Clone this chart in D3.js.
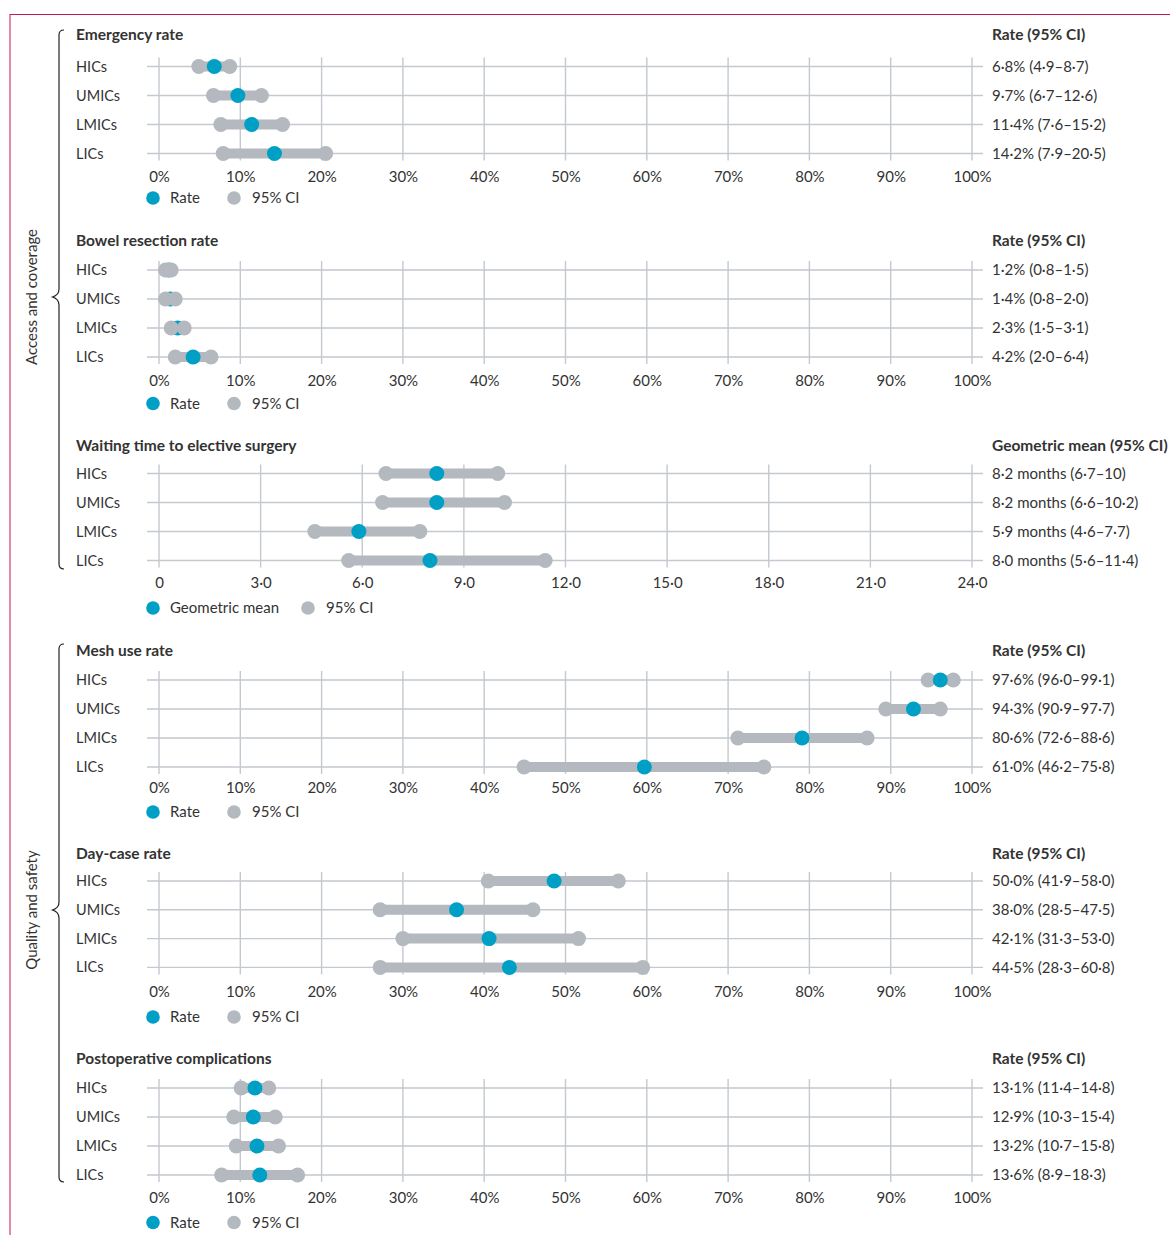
<!DOCTYPE html>
<html><head><meta charset="utf-8">
<script src="https://cdn.jsdelivr.net/npm/d3@7"></script>
<style>
body{margin:0;background:#fff}
text{font-family:Lato,"Noto Sans",sans-serif;fill:#333}
</style>
</head><body>
<svg id="c" width="1170" height="1235"></svg>
<script>
// ---------- DATA ----------
const groups = ["HICs", "UMICs", "LMICs", "LICs"];

const emergencyRate = [6.8, 9.7, 11.4, 14.2];
const emergencyLow  = [4.9, 6.7, 7.6, 7.9];
const emergencyHigh = [8.7, 12.6, 15.2, 20.5];
const emergencyText = ["6·8% (4·9–8·7)", "9·7% (6·7–12·6)", "11·4% (7·6–15·2)", "14·2% (7·9–20·5)"];

const bowelRate = [1.2, 1.4, 2.3, 4.2];
const bowelLow  = [0.8, 0.8, 1.5, 2.0];
const bowelHigh = [1.5, 2.0, 3.1, 6.4];
const bowelText = ["1·2% (0·8–1·5)", "1·4% (0·8–2·0)", "2·3% (1·5–3·1)", "4·2% (2·0–6·4)"];

const waitMean = [8.2, 8.2, 5.9, 8.0];
const waitLow  = [6.7, 6.6, 4.6, 5.6];
const waitHigh = [10.0, 10.2, 7.7, 11.4];
const waitText = ["8·2 months (6·7–10)", "8·2 months (6·6–10·2)", "5·9 months (4·6–7·7)", "8·0 months (5·6–11·4)"];

// plotted positions
const meshRate = [96.1, 92.8, 79.1, 59.7];
const meshLow  = [94.6, 89.4, 71.2, 44.9];
const meshHigh = [97.7, 96.1, 87.1, 74.4];
const meshText = ["97·6% (96·0–99·1)", "94·3% (90·9–97·7)", "80·6% (72·6–88·6)", "61·0% (46·2–75·8)"];

const dayRate = [48.6, 36.6, 40.6, 43.1];
const dayLow  = [40.5, 27.2, 30.0, 27.2];
const dayHigh = [56.5, 46.0, 51.6, 59.5];
const dayText = ["50·0% (41·9–58·0)", "38·0% (28·5–47·5)", "42·1% (31·3–53·0)", "44·5% (28·3–60·8)"];

const postopRate = [11.8, 11.6, 12.05, 12.4];
const postopLow  = [10.1, 9.2, 9.5, 7.7];
const postopHigh = [13.5, 14.3, 14.7, 17.05];
const postopText = ["13·1% (11·4–14·8)", "12·9% (10·3–15·4)", "13·2% (10·7–15·8)", "13·6% (8·9–18·3)"];

const percentTicks = [0, 10, 20, 30, 40, 50, 60, 70, 80, 90, 100];
const percentTickLabels = ["0%", "10%", "20%", "30%", "40%", "50%", "60%", "70%", "80%", "90%", "100%"];
const monthTicks = [0, 3, 6, 9, 12, 15, 18, 21, 24];
const monthTickLabels = ["0", "3·0", "6·0", "9·0", "12·0", "15·0", "18·0", "21·0", "24·0"];

const panelTitles = ["Emergency rate", "Bowel resection rate", "Waiting time to elective surgery",
                     "Mesh use rate", "Day-case rate", "Postoperative complications"];
const panelHeaders = ["Rate (95% CI)", "Rate (95% CI)", "Geometric mean (95% CI)",
                      "Rate (95% CI)", "Rate (95% CI)", "Rate (95% CI)"];
const pointLegend = ["Rate", "Rate", "Geometric mean", "Rate", "Rate", "Rate"];
const ciLegend = "95% CI";
const domainLabels = ["Access and coverage", "Quality and safety"];

// ---------- LAYOUT ----------
const TEAL = "#00a0c6", GREY = "#b3b9bf", GRID = "#c3c9cf";
const layout = [
  {title: 35,   row0: 66.5,  step: 29.0, tick: 176.5, legend: 198,    legendGap: 0,  ciOnTop: false},
  {title: 241,  row0: 270,   step: 29.0, tick: 380.5, legend: 403.5,  legendGap: 0,  ciOnTop: true},
  {title: 446,  row0: 473.5, step: 29.0, tick: 583,   legend: 608,    legendGap: 74, ciOnTop: false},
  {title: 651,  row0: 680,   step: 29.0, tick: 788,   legend: 812,    legendGap: 0,  ciOnTop: false},
  {title: 854,  row0: 881,   step: 28.8, tick: 992,   legend: 1017,   legendGap: 0,  ciOnTop: false},
  {title: 1059, row0: 1088,  step: 29.0, tick: 1198,  legend: 1222.5, legendGap: 0,  ciOnTop: false}
];

const panels = [
  {rate: emergencyRate, low: emergencyLow, high: emergencyHigh, text: emergencyText, months: false},
  {rate: bowelRate, low: bowelLow, high: bowelHigh, text: bowelText, months: false},
  {rate: waitMean, low: waitLow, high: waitHigh, text: waitText, months: true},
  {rate: meshRate, low: meshLow, high: meshHigh, text: meshText, months: false},
  {rate: dayRate, low: dayLow, high: dayHigh, text: dayText, months: false},
  {rate: postopRate, low: postopLow, high: postopHigh, text: postopText, months: false}
];

const svg = d3.select("#c");

// frame
svg.append("line").attr("x1", 10).attr("x2", 1170).attr("y1", 14.5).attr("y2", 14.5)
  .attr("stroke", "#c9184a").attr("stroke-width", 1);
svg.append("line").attr("x1", 10).attr("x2", 10).attr("y1", 14).attr("y2", 1235)
  .attr("stroke", "#c9184a").attr("stroke-width", 1);

panels.forEach((p, pi) => {
  const L = layout[pi];
  const g = svg.append("g");
  const x = d3.scaleLinear().domain(p.months ? [0, 24] : [0, 100]).range([159, 972]);
  const ticks = p.months ? monthTicks : percentTicks;
  const tickLabels = p.months ? monthTickLabels : percentTickLabels;
  const y = d3.scalePoint().domain(groups).range([L.row0, L.row0 + 3 * L.step]);

  // title + header
  g.append("text").attr("x", 76).attr("y", L.title).attr("dy", "0.35em")
    .style("font-weight", 700).style("font-size", "15.5px").text(panelTitles[pi]);
  g.append("text").attr("x", 992).attr("y", L.title).attr("dy", "0.35em")
    .style("font-weight", 700).style("font-size", "15.5px").text(panelHeaders[pi]);

  // grid
  const yTop = y(groups[0]) - 9, yBot = y(groups[3]) + 7;
  g.selectAll(".vg").data(ticks).join("line")
    .attr("x1", d => x(d)).attr("x2", d => x(d)).attr("y1", yTop).attr("y2", yBot)
    .attr("stroke", GRID).attr("stroke-width", 1.4);
  g.selectAll(".hg").data(groups).join("line")
    .attr("x1", 147).attr("x2", 983).attr("y1", d => y(d)).attr("y2", d => y(d))
    .attr("stroke", GRID).attr("stroke-width", 1.4);

  // row labels
  g.selectAll(".rl").data(groups).join("text")
    .attr("x", 76).attr("y", d => y(d)).attr("dy", "0.35em")
    .style("font-size", "14.5px").text(d => d);

  // value labels
  g.selectAll(".vl").data(p.text).join("text")
    .attr("x", 992).attr("y", (d, i) => y(groups[i])).attr("dy", "0.35em")
    .style("font-size", "15px").text(d => d);

  // axis tick labels
  const axis = d3.axisBottom(x).tickValues(ticks).tickSize(0).tickPadding(0)
    .tickFormat((d, i) => tickLabels[i]);
  const ag = g.append("g").attr("transform", `translate(0,${L.tick})`).call(axis);
  ag.select(".domain").remove();
  ag.selectAll("text").attr("y", 0).attr("dy", "0.35em")
    .style("font-family", "Lato, 'Noto Sans', sans-serif").style("font-size", "15px")
    .attr("fill", "#333");

  // CI bars and points
  groups.forEach((grp, i) => {
    const yy = y(grp);
    g.append("line").attr("x1", x(p.low[i])).attr("x2", x(p.high[i]))
      .attr("y1", yy).attr("y2", yy).attr("stroke", GREY).attr("stroke-width", 10);
    const drawCI = () => {
      g.append("circle").attr("cx", x(p.low[i])).attr("cy", yy).attr("r", 7.5).attr("fill", GREY);
      g.append("circle").attr("cx", x(p.high[i])).attr("cy", yy).attr("r", 7.5).attr("fill", GREY);
    };
    const drawRate = () => {
      g.append("circle").attr("cx", x(p.rate[i])).attr("cy", yy).attr("r", 7.5).attr("fill", TEAL);
    };
    if (L.ciOnTop) { drawRate(); drawCI(); } else { drawCI(); drawRate(); }
  });

  // legend
  const lg = g.append("g").attr("transform", `translate(0,${L.legend})`);
  lg.append("circle").attr("cx", 153).attr("cy", 0).attr("r", 6.8).attr("fill", TEAL);
  lg.append("text").attr("x", 170).attr("y", 0).attr("dy", "0.35em").style("font-size", "15px").text(pointLegend[pi]);
  lg.append("circle").attr("cx", 234 + L.legendGap).attr("cy", 0).attr("r", 6.8).attr("fill", GREY);
  lg.append("text").attr("x", 252 + L.legendGap).attr("y", 0).attr("dy", "0.35em").style("font-size", "15px").text(ciLegend);
});

// braces
function brace(top, mid, bot) {
  const p = d3.path();
  const bx = 59, tip = 52.5;
  p.moveTo(64, top);
  p.quadraticCurveTo(bx, top, bx, top + 5);
  p.lineTo(bx, mid - 8);
  p.quadraticCurveTo(bx, mid - 2, tip, mid);
  p.quadraticCurveTo(bx, mid + 2, bx, mid + 8);
  p.lineTo(bx, bot - 5);
  p.quadraticCurveTo(bx, bot, 64, bot);
  return p.toString();
}
[[30, 297, 569], [644, 910, 1182]].forEach((b, i) => {
  svg.append("path").attr("d", brace(b[0], b[1], b[2])).attr("fill", "none")
    .attr("stroke", "#222").attr("stroke-width", 1.2);
  svg.append("text").attr("transform", `translate(32,${b[1]}) rotate(-90)`)
    .attr("text-anchor", "middle").attr("dy", "0.35em").style("font-size", "15px")
    .text(domainLabels[i]);
});
</script>
</body></html>
